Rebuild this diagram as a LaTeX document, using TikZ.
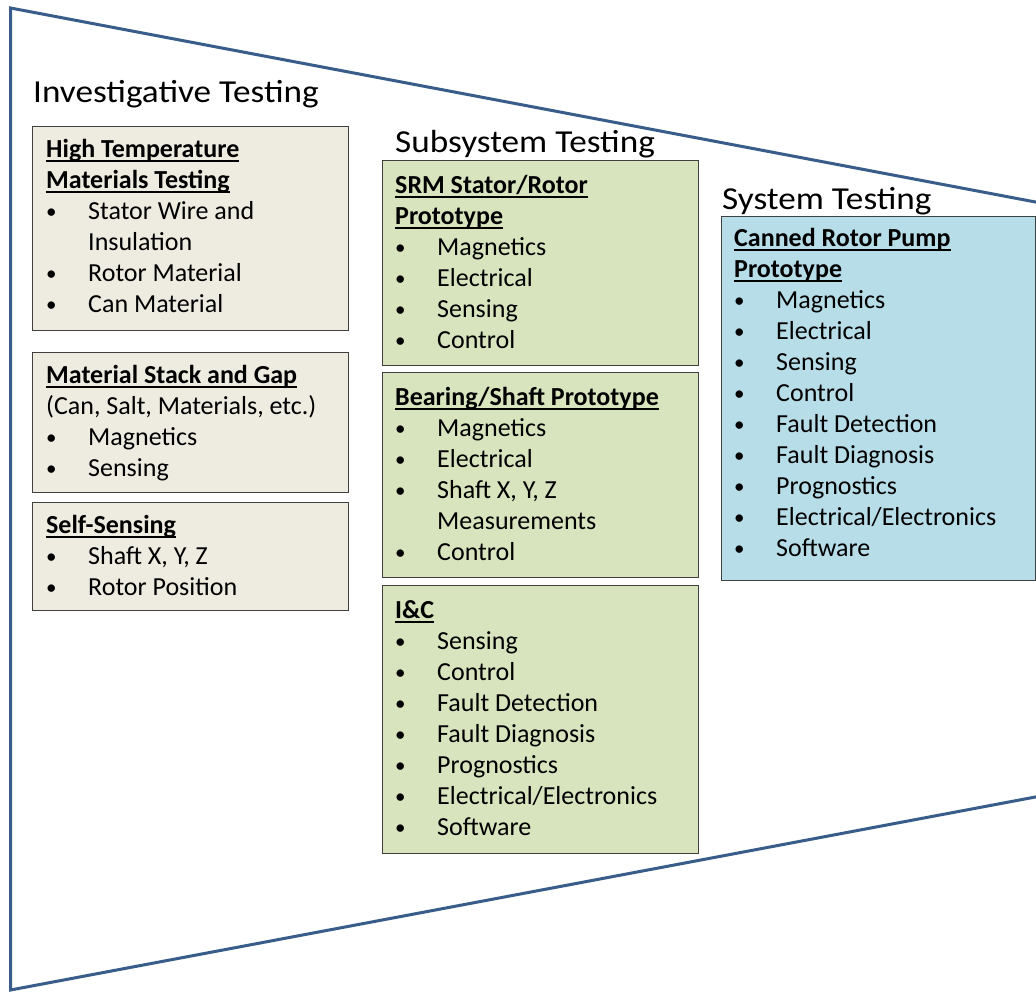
\documentclass[tikz,border=0pt]{standalone}
\usepackage{fontspec}
\setmainfont{Carlito}
\definecolor{trapc}{RGB}{56,93,138}
\definecolor{bordc}{RGB}{64,64,64}
\definecolor{invf}{RGB}{238,236,225}
\definecolor{subf}{RGB}{215,228,189}
\definecolor{sysf}{RGB}{183,221,232}
\newcommand\myhd[1]{\setbox0\hbox{\bfseries #1}\rlap{\rule[-4.5pt]{\wd0}{1.4pt}}\box0}
\newcommand\mybl[1]{\makebox[42pt][l]{\raisebox{0.5pt}{\fontsize{21}{21}\selectfont •}}#1}
\newcommand\myind{\hspace*{42pt}}
\newcommand\mystrut{\rule{0pt}{22pt}}
\newcommand\myttl[1]{\scalebox{1.1}[1]{#1}}
\begin{document}
\begin{tikzpicture}[x=1pt,y=-1pt,
  box/.style={draw=bordc, line width=1.3pt, anchor=north west, inner sep=0pt, minimum width=316pt},
  invbox/.style={box, fill=invf},
  subbox/.style={box, fill=subf},
  sysbox/.style={box, fill=sysf},
  body/.style={anchor=north west, inner sep=0pt, align=left, font=\fontsize{26}{31}\selectfont},
  ttl/.style={anchor=base west, inner sep=0pt, font=\fontsize{32}{38}\selectfont},
  trap/.style={draw=trapc, line width=3pt, line join=miter}]
\useasboundingbox (0,0) rectangle (1036,992);
\fill[white] (0,0) rectangle (1036,992);
% funnel outline
\coordinate (tr) at (1046,204);
\coordinate (tl) at (10.5,8);
\coordinate (bl) at (10.5,990);
\coordinate (br) at (1046,795);
\begin{scope}
\clip (0,0) rectangle (1036,992);
\draw[trap] (tr) -- (tl) -- (bl) -- (br);
\end{scope}
% titles
\node[ttl] (tinv) at (33,103) {\myttl{Investigative Testing}};
\node[ttl] (tsub) at (395,153) {\myttl{Subsystem Testing}};
\node[ttl] (tsys) at (722,210) {\myttl{System Testing}};
% investigative boxes
\node[invbox, minimum height=204pt] (inv1) at (32,126) {};
\node[invbox, minimum height=140pt] (inv2) at (32,352) {};
\node[invbox, minimum height=108pt] (inv3) at (32,502) {};
% subsystem boxes
\node[subbox, minimum height=205pt] (sub1) at (382,160) {};
\node[subbox, minimum height=205pt] (sub2) at (382,372) {};
\node[subbox, minimum height=268pt] (sub3) at (382,585) {};
% system box
\node[sysbox, minimum width=314pt, minimum height=364pt] (sys) at (721,216) {};
% contents
\node[body] (inv1t) at ([xshift=14pt,yshift=-9pt]inv1.north west)
 {\mystrut\myhd{High Temperature}\\ \myhd{Materials Testing}\\ \mybl{Stator Wire and}\\ \myind Insulation\\ \mybl{Rotor Material}\\ \mybl{Can Material}};
\node[body] (inv2t) at ([xshift=14pt,yshift=-9pt]inv2.north west)
 {\mystrut\myhd{Material Stack and Gap}\\ (Can, Salt, Materials, etc.)\\ \mybl{Magnetics}\\ \mybl{Sensing}};
\node[body] (inv3t) at ([xshift=14pt,yshift=-9pt]inv3.north west)
 {\mystrut\myhd{Self-Sensing}\\ \mybl{Shaft X, Y, Z}\\ \mybl{Rotor Position}};
\node[body] (sub1t) at ([xshift=13pt,yshift=-11pt]sub1.north west)
 {\mystrut\myhd{SRM Stator/Rotor}\\ \myhd{Prototype}\\ \mybl{Magnetics}\\ \mybl{Electrical}\\ \mybl{Sensing}\\ \mybl{Control}};
\node[body] (sub2t) at ([xshift=13pt,yshift=-11pt]sub2.north west)
 {\mystrut\myhd{Bearing/Shaft Prototype}\\ \mybl{Magnetics}\\ \mybl{Electrical}\\ \mybl{Shaft X, Y, Z}\\ \myind Measurements\\ \mybl{Control}};
\node[body] (sub3t) at ([xshift=13pt,yshift=-11pt]sub3.north west)
 {\mystrut\myhd{I\&C}\\ \mybl{Sensing}\\ \mybl{Control}\\ \mybl{Fault Detection}\\ \mybl{Fault Diagnosis}\\ \mybl{Prognostics}\\ \mybl{Electrical/Electronics}\\ \mybl{Software}};
\node[body] (syst) at ([xshift=13pt,yshift=-8pt]sys.north west)
 {\mystrut\myhd{Canned Rotor Pump}\\ \myhd{Prototype}\\ \mybl{Magnetics}\\ \mybl{Electrical}\\ \mybl{Sensing}\\ \mybl{Control}\\ \mybl{Fault Detection}\\ \mybl{Fault Diagnosis}\\ \mybl{Prognostics}\\ \mybl{Electrical/Electronics}\\ \mybl{Software}};
\end{tikzpicture}
\end{document}
